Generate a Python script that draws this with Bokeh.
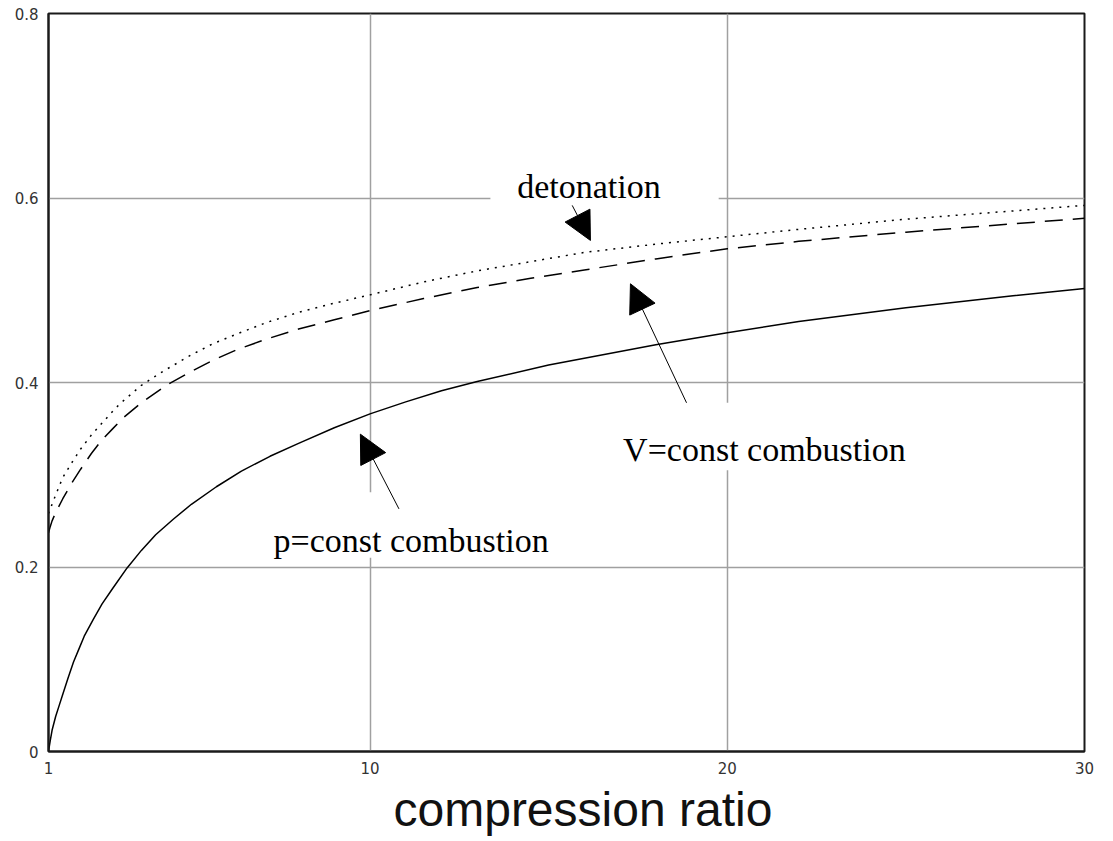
from bokeh.plotting import figure
from bokeh.models import Range1d, FixedTicker, Label, Arrow, NormalHead, BoxAnnotation, Title
from bokeh.embed import file_html
from bokeh.resources import INLINE

# ---- data ----
x_ticks = [1, 10, 20, 30]
y_ticks = [0, 0.2, 0.4, 0.6, 0.8]
y_tick_labels = {0: "0", 0.2: "0.2", 0.4: "0.4", 0.6: "0.6", 0.8: "0.8"}

# p = const combustion (solid)
x_p = [1, 1.05, 1.1, 1.2, 1.3, 1.4, 1.55, 1.7, 1.85, 2.0, 2.25, 2.5, 2.8, 3.2, 3.6, 4.0, 4.5,
       5.0, 5.7, 6.4, 7.2, 8.0, 9, 10, 11, 12, 13, 15, 18, 20, 22, 25, 28, 30]
y_p = [0.0, 0.012, 0.023, 0.038, 0.050, 0.062, 0.080, 0.097, 0.111, 0.125, 0.143, 0.160, 0.177,
       0.199, 0.218, 0.235, 0.252, 0.268, 0.287, 0.304, 0.320, 0.334, 0.351, 0.366, 0.379,
       0.391, 0.401, 0.419, 0.441, 0.454, 0.466, 0.481, 0.494, 0.502]

# V = const combustion (dashed)
x_v = [1, 1.05, 1.1, 1.2, 1.4, 1.65, 1.9, 2.2, 2.5, 2.8, 3.1, 3.6, 4.3, 5.0, 5.6, 6.3, 7.1, 8,
       9, 10, 11.5, 13, 14.5, 16, 18, 20, 22, 25, 28, 30]
y_v = [0.237, 0.244, 0.250, 0.259, 0.274, 0.291, 0.306, 0.323, 0.338, 0.350, 0.362, 0.378,
       0.397, 0.412, 0.424, 0.436, 0.447, 0.458, 0.468, 0.478, 0.491, 0.503, 0.513, 0.522,
       0.534, 0.545, 0.553, 0.563, 0.572, 0.578]

# detonation (dotted)
x_d = [1, 1.05, 1.1, 1.2, 1.4, 1.65, 1.9, 2.2, 2.5, 2.8, 3.0, 3.6, 4.2, 5.0, 5.6, 6.3, 7.1, 8,
       9, 10, 11.5, 13, 14.5, 16, 18, 20, 22, 25, 28, 30]
y_d = [0.258, 0.263, 0.268, 0.278, 0.297, 0.313, 0.328, 0.343, 0.356, 0.369, 0.377, 0.397,
       0.412, 0.430, 0.442, 0.453, 0.465, 0.476, 0.486, 0.495, 0.509, 0.521, 0.531, 0.541,
       0.550, 0.558, 0.566, 0.577, 0.586, 0.592]

p = figure(frame_width=1036, frame_height=738, output_backend="svg", toolbar_location=None,
           x_range=Range1d(1, 30), y_range=Range1d(0, 0.8),
           min_border_left=48, min_border_right=29, min_border_top=13, min_border_bottom=0)
p.background_fill_color = "white"
p.border_fill_color = "white"
p.outline_line_color = "#1a1a1a"
p.outline_line_width = 2

for g in (p.xgrid[0], p.ygrid[0]):
    g.grid_line_color = "#a0a0a0"
    g.grid_line_width = 1.5
p.xgrid[0].ticker = FixedTicker(ticks=x_ticks)
p.ygrid[0].ticker = FixedTicker(ticks=y_ticks)

for ax in (p.xaxis[0], p.yaxis[0]):
    ax.major_tick_line_color = None
    ax.minor_tick_line_color = None
    ax.axis_line_color = "#1a1a1a"
    ax.axis_line_width = 2
    ax.major_label_text_font = "DejaVu Sans"
    ax.major_label_text_font_size = "15px"
    ax.major_label_text_color = "#333333"
    ax.major_label_standoff = 4
p.xaxis[0].ticker = FixedTicker(ticks=x_ticks)
p.yaxis[0].ticker = FixedTicker(ticks=y_ticks)
p.yaxis[0].major_label_overrides = y_tick_labels

# x axis title as a panel below the axis
p.add_layout(Title(text="compression ratio", align="left", offset=345,
                   text_font="Liberation Sans", text_font_size="48px",
                   text_font_style="normal", text_color="#111111", standoff=9), "below")

# white boxes behind labels
box_kw = dict(fill_color="white", fill_alpha=1.0, line_color=None)
p.add_layout(BoxAnnotation(left=13.37, right=19.76, bottom=0.592, top=0.651, **box_kw))
p.add_layout(BoxAnnotation(left=6.99, right=15.28, bottom=0.210, top=0.281, **box_kw))
p.add_layout(BoxAnnotation(left=16.40, right=25.69, bottom=0.305, top=0.378, **box_kw))

p.line(x_p, y_p, line_color="black", line_width=1.5)
p.line(x_v, y_v, line_color="black", line_width=1.5, line_dash="18 10")
p.line(x_d, y_d, line_color="black", line_width=1.5, line_dash="2 6")

lab_kw = dict(text_font="Liberation Serif", text_font_size="34px", text_color="black",
              text_align="center", text_baseline="alphabetic")
p.add_layout(Label(x=16.13, y=0.6125, text="detonation", **lab_kw))
p.add_layout(Label(x=11.15, y=0.2287, text="p=const combustion", **lab_kw))
p.add_layout(Label(x=21.04, y=0.327, text="V=const combustion", **lab_kw))

def head():
    return NormalHead(size=28, fill_color="black", line_color="black", line_width=1)

p.add_layout(Arrow(x_start=15.66, y_start=0.592, x_end=16.17, y_end=0.554,
                   end=head(), line_color="black", line_width=1))
p.add_layout(Arrow(x_start=10.81, y_start=0.263, x_end=9.73, y_end=0.344,
                   end=head(), line_color="black", line_width=1))
p.add_layout(Arrow(x_start=18.86, y_start=0.378, x_end=17.29, y_end=0.507,
                   end=head(), line_color="black", line_width=1))

open("out.html", "w").write(file_html(p, INLINE))
